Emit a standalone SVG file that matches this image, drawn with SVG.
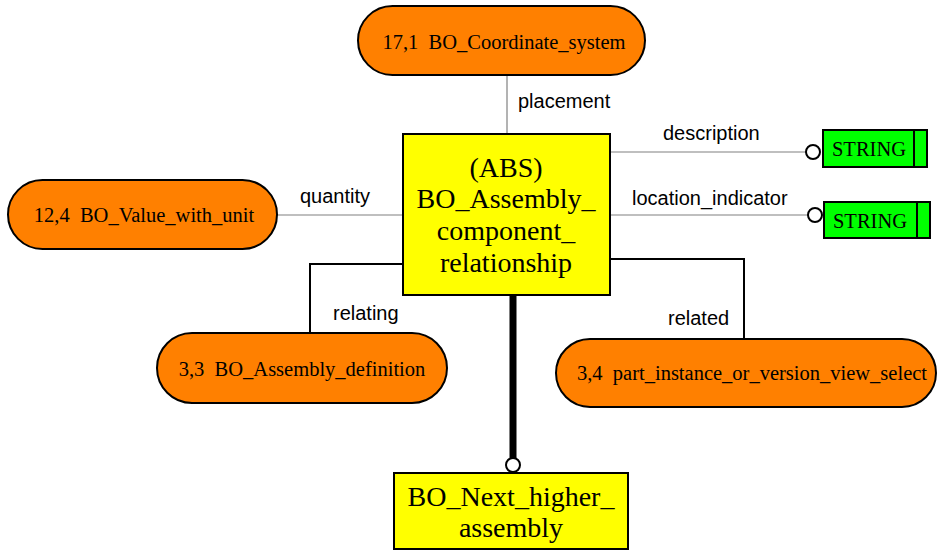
<svg xmlns="http://www.w3.org/2000/svg" width="937" height="552" viewBox="0 0 937 552">
<style>
.pill{fill:#ff8000;stroke:#000;stroke-width:2}
.ent{fill:#ffff00;stroke:#000;stroke-width:2}
.str{fill:#00ff00;stroke:#000;stroke-width:2}
.t{font-family:"Liberation Serif","Times New Roman",serif;fill:#000}
.pt{font-size:20.5px;text-anchor:middle}
.et{font-size:28px;text-anchor:middle}
.lbl{font-family:"Liberation Sans",Arial,sans-serif;font-size:20px;fill:#000}
.g{stroke:#808080;stroke-width:1.2;fill:none}
.b{stroke:#000;stroke-width:2;fill:none}
.circ{fill:#fff;stroke:#000;stroke-width:2}
</style>
<rect width="937" height="552" fill="#fff"/>
<g id="connectors">
<line class="g" x1="507" y1="75" x2="507" y2="134"/>
<text class="lbl" x="518" y="108">placement</text>
<line class="g" x1="277" y1="215" x2="403" y2="215"/>
<text class="lbl" x="300" y="203">quantity</text>
<line class="g" x1="610" y1="152" x2="806" y2="152"/>
<circle class="circ" cx="813" cy="152" r="7"/>
<text class="lbl" x="663" y="140">description</text>
<line class="g" x1="610" y1="215" x2="808" y2="215"/>
<circle class="circ" cx="815" cy="215" r="7"/>
<text class="lbl" x="632" y="205">location_indicator</text>
<polyline class="b" points="403,264 310,264 310,333"/>
<text class="lbl" x="333" y="320">relating</text>
<polyline class="b" points="610,259 744,259 744,339"/>
<text class="lbl" x="668" y="325">related</text>
<line stroke="#000" stroke-width="7" x1="513" y1="295" x2="513" y2="458"/>
<circle class="circ" cx="513" cy="465" r="7"/>
</g>
<g id="n_coord">
<rect class="pill" x="358" y="6" width="287" height="69" rx="34.5"/>
<text class="t pt" x="504" y="49" xml:space="preserve">17,1  BO_Coordinate_system</text>
</g>
<g id="n_value">
<rect class="pill" x="8" y="180" width="269" height="69" rx="34.5"/>
<text class="t pt" x="144" y="222" xml:space="preserve">12,4  BO_Value_with_unit</text>
</g>
<g id="n_main">
<rect class="ent" x="403" y="134" width="207" height="161"/>
<text class="t et" x="506" y="177">(ABS)</text>
<text class="t et" x="506" y="208">BO_Assembly_</text>
<text class="t et" x="506" y="240">component_</text>
<text class="t et" x="506" y="272">relationship</text>
</g>
<g id="n_string1">
<rect class="str" x="823" y="130" width="104" height="37"/>
<line stroke="#000" stroke-width="2" x1="914" y1="130" x2="914" y2="167"/>
<text class="t" font-size="20.5" text-anchor="middle" x="869" y="156">STRING</text>
</g>
<g id="n_string2">
<rect class="str" x="824" y="202" width="106" height="36"/>
<line stroke="#000" stroke-width="2" x1="917" y1="202" x2="917" y2="238"/>
<text class="t" font-size="20.5" text-anchor="middle" x="870" y="228">STRING</text>
</g>
<g id="n_assydef">
<rect class="pill" x="157" y="333" width="290" height="70" rx="35"/>
<text class="t pt" x="302" y="376" xml:space="preserve">3,3  BO_Assembly_definition</text>
</g>
<g id="n_select">
<rect class="pill" x="556" y="339" width="380" height="68" rx="34"/>
<text class="t pt" x="752" y="380" xml:space="preserve">3,4  part_instance_or_version_view_select</text>
</g>
<g id="n_next">
<rect class="ent" x="394" y="473" width="234" height="76"/>
<text class="t et" x="511" y="506">BO_Next_higher_</text>
<text class="t et" x="511" y="537">assembly</text>
</g>
</svg>
